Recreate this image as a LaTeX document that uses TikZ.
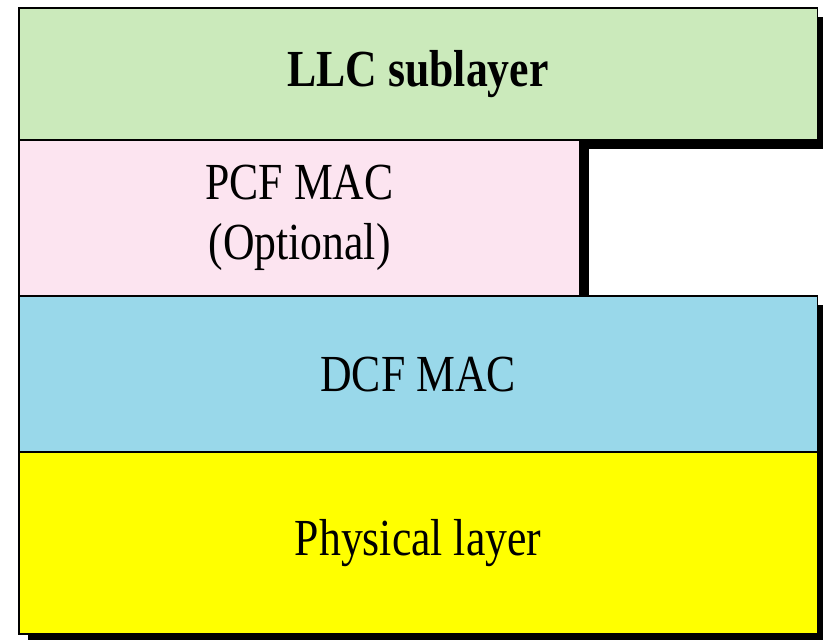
\documentclass[tikz,border=0pt]{standalone}
\usepackage{fontspec}
\setmainfont{Liberation Serif}[FakeStretch=0.84]
\usetikzlibrary{positioning, shadows}

\definecolor{llcgreen}{RGB}{203,234,187}
\definecolor{pcfpink}{RGB}{252,228,240}
\definecolor{dcfblue}{RGB}{153,216,234}
\definecolor{phyyellow}{RGB}{255,255,0}

\begin{document}
\begin{tikzpicture}[
    x=0.025cm, y=0.025cm,
    node distance=0pt,
    every node/.style={
        draw,
        rectangle,
        line width=1pt,
        inner sep=0pt,
        outer sep=0pt,
        align=center,
        minimum width=19.95cm,
        font=\fontsize{37}{43}\selectfont,
        drop shadow={shadow xshift=0.225cm, shadow yshift=-0.225cm, fill=black, opacity=1}
    }
]
    \useasboundingbox (0,0) rectangle (823,639);

    \node (llc) [fill=llcgreen, minimum height=3.3cm, anchor=north west,
        font=\fontsize{37}{43}\selectfont\bfseries] at (19,631) {LLC sublayer};
    \node (pcf) [fill=pcfpink, minimum width=14.025cm, minimum height=3.9cm,
        below=of llc.south west, anchor=north west] {PCF MAC\\(Optional)};
    \node (dcf) [fill=dcfblue, minimum height=3.9cm,
        below=of pcf.south west, anchor=north west] {DCF MAC};
    \node (phy) [fill=phyyellow, minimum height=4.55cm,
        below=of dcf.south west, anchor=north west] {Physical layer};

\end{tikzpicture}
\end{document}
